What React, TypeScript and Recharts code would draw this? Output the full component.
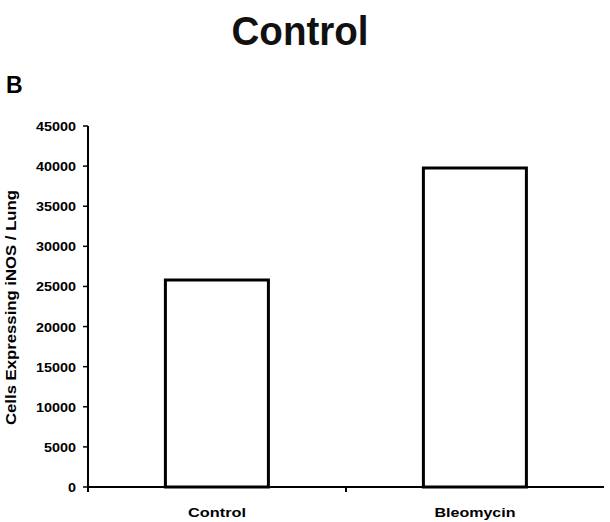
import React from 'react';
import { BarChart, Bar, XAxis, YAxis, Label } from 'recharts';

const categories = ['Control', 'Bleomycin'];
const cellCounts = [25800, 39750];
const yTicks = [0, 5000, 10000, 15000, 20000, 25000, 30000, 35000, 40000, 45000];
const xLabelWidths = [58, 81];

const data = categories.map((name, i) => ({ name, cells: cellCounts[i] }));

const FONT = '"Liberation Sans", Arial, Helvetica, sans-serif';

const YTick = ({ x, y, payload }: any) => {
  const text = String(payload.value);
  return (
    <text
      x={x}
      y={y + 5}
      textAnchor="end"
      fontFamily={FONT}
      fontWeight="bold"
      fontSize={12}
      fill="#000"
      textLength={text.length * 8}
      lengthAdjust="spacingAndGlyphs"
    >
      {text}
    </text>
  );
};

const XTick = ({ x, y, payload, index }: any) => {
  // tick mark sits on the left edge of each category band
  const left = payload.coordinate - (payload.offset || 0);
  const axisY = y - 8;
  return (
    <g>
      <line x1={left} y1={axisY} x2={left} y2={axisY + 5} stroke="#000" strokeWidth={2} />
      <text
        x={x}
        y={y + 22}
        textAnchor="middle"
        fontFamily={FONT}
        fontWeight="bold"
        fontSize={13}
        fill="#000"
        textLength={xLabelWidths[index]}
        lengthAdjust="spacingAndGlyphs"
      >
        {payload.value}
      </text>
    </g>
  );
};

const YLabel = ({ viewBox }: any) => {
  const cy = viewBox.y + viewBox.height / 2 + 1;
  const cx = 16;
  return (
    <text
      x={cx}
      y={cy}
      transform={`rotate(-90 ${cx} ${cy})`}
      textAnchor="middle"
      fontFamily={FONT}
      fontWeight="bold"
      fontSize={14}
      fill="#000"
      textLength={235}
      lengthAdjust="spacingAndGlyphs"
    >
      Cells Expressing iNOS / Lung
    </text>
  );
};

export default function App() {
  return (
    <div style={{ position: 'absolute', left: 0, top: 0, width: 610, height: 522, background: '#fff' }}>
      <svg width={610} height={522} style={{ position: 'absolute', left: 0, top: 0 }}>
        <text
          x={300}
          y={45}
          textAnchor="middle"
          fontFamily={FONT}
          fontWeight="bold"
          fontSize={40}
          fill="#111"
          textLength={137}
          lengthAdjust="spacingAndGlyphs"
        >
          Control
        </text>
        <text x={6} y={93} fontFamily={FONT} fontWeight="bold" fontSize={23} fill="#000">
          B
        </text>
      </svg>
      <div style={{ position: 'absolute', left: 0, top: 0 }}>
        <BarChart
          width={610}
          height={522}
          data={data}
          margin={{ top: 126, right: 6, bottom: 5, left: 28 }}
          barCategoryGap="30%"
        >
          <XAxis
            dataKey="name"
            height={30}
            axisLine={{ stroke: '#000', strokeWidth: 2 }}
            tickLine={false}
            tick={<XTick />}
          />
          <YAxis
            width={60}
            domain={[0, 45000]}
            ticks={yTicks}
            interval={0}
            tickSize={5}
            tickMargin={7}
            axisLine={{ stroke: '#000', strokeWidth: 2 }}
            tickLine={{ stroke: '#000', strokeWidth: 1.5 }}
            tick={<YTick />}
          >
            <Label content={<YLabel />} />
          </YAxis>
          <Bar dataKey="cells" fill="#fff" stroke="#000" strokeWidth={3} isAnimationActive={false} />
        </BarChart>
      </div>
    </div>
  );
}
